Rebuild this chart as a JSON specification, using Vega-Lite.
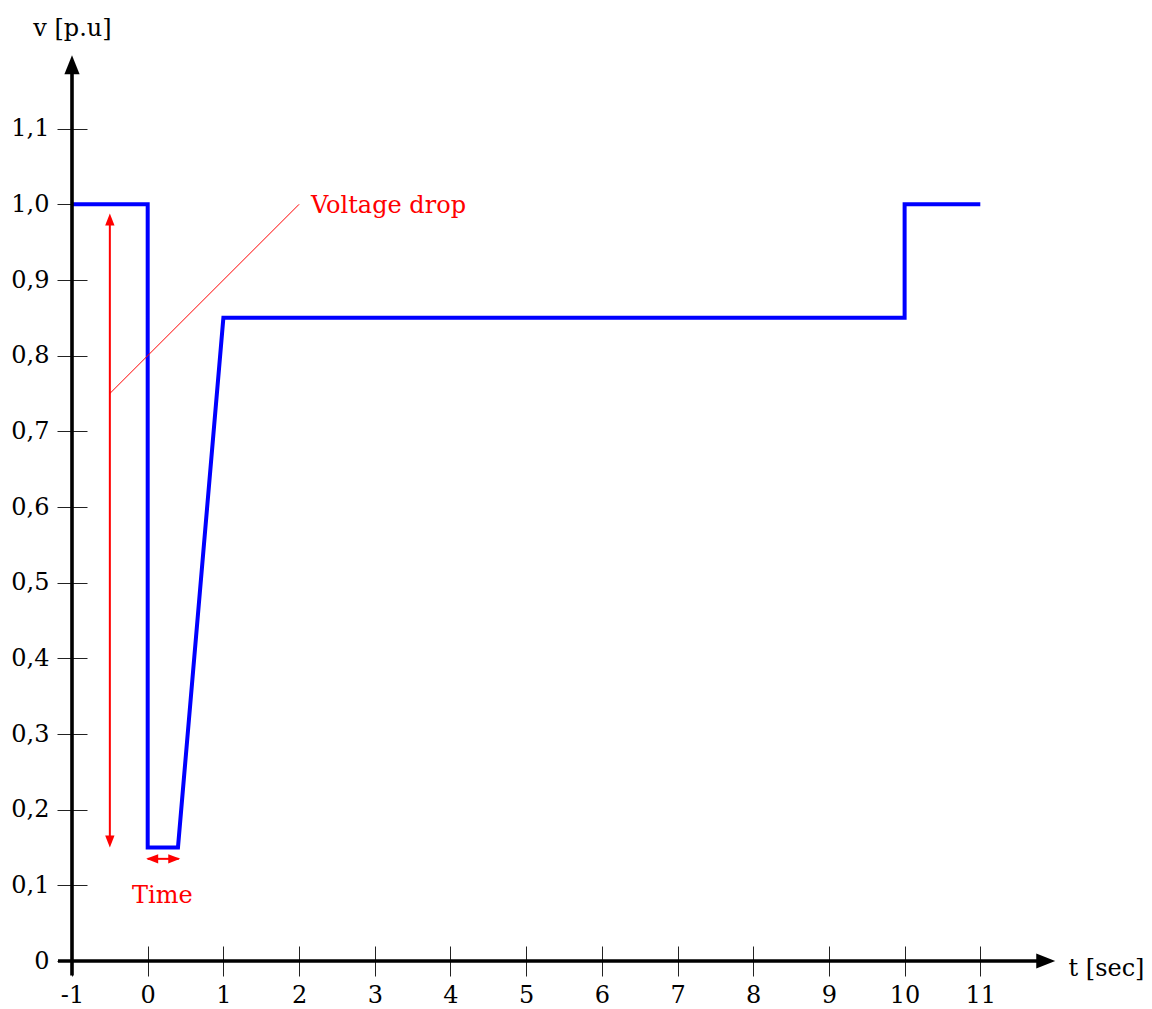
{
  "$schema": "https://vega.github.io/schema/vega-lite/v6.json",
  "width": 984,
  "height": 908,
  "autosize": {"type": "none"},
  "padding": {"left": 72, "top": 53, "right": 96, "bottom": 48},
  "background": "white",
  "config": {"view": {"stroke": null}, "font": "DejaVu Serif"},
  "datasets": {
    "voltage": [
      {"step": 1, "t": -1, "v": 1},
      {"step": 2, "t": 0, "v": 1},
      {"step": 3, "t": 0, "v": 0.15},
      {"step": 4, "t": 0.4, "v": 0.15},
      {"step": 5, "t": 1, "v": 0.85},
      {"step": 6, "t": 10, "v": 0.85},
      {"step": 7, "t": 10, "v": 1},
      {"step": 8, "t": 11, "v": 1}
    ],
    "axisLines": [
      {"t": -1.185, "v": 0, "t2": 11.8, "v2": 0},
      {"t": -1, "v": -0.019, "t2": -1, "v2": 1.175}
    ],
    "axisHeads": [
      {"t": 11.99, "v": 0, "heading": 0},
      {"t": -1, "v": 1.197, "heading": 270}
    ],
    "shafts": [
      {"t": -0.5, "v": 0.162, "t2": -0.5, "v2": 0.976},
      {"t": 0.0, "v": 0.135, "t2": 0.41, "v2": 0.135}
    ],
    "leader": [
      {"t": -0.5, "v": 0.75, "t2": 2, "v2": 1}
    ],
    "heads": [
      {"t": -0.5, "v": 0.988, "heading": 270},
      {"t": -0.5, "v": 0.15, "heading": 90},
      {"t": -0.02, "v": 0.135, "heading": 180},
      {"t": 0.43, "v": 0.135, "heading": 0}
    ],
    "notes": [
      {"t": 2.157, "v": 0.988, "label": "Voltage drop"},
      {"t": -0.207, "v": 0.077, "label": "Time"}
    ]
  },
  "encoding": {
    "x": {
      "field": "t",
      "type": "quantitative",
      "scale": {"domain": [-1, 12], "nice": false, "zero": false},
      "axis": {
        "values": [-1, 0, 1, 2, 3, 4, 5, 6, 7, 8, 9, 10, 11],
        "domain": false,
        "grid": false,
        "offset": -15,
        "tickSize": 30,
        "tickWidth": 1,
        "tickColor": "#222222",
        "labelPadding": 7,
        "labelFontSize": 24,
        "labelColor": "black",
        "labelFont": "DejaVu Serif",
        "labelOverlap": false,
        "labelFlush": false,
        "labelExpr": "'' + datum.value",
        "title": "t [sec]",
        "titleFont": "DejaVu Serif",
        "titleFontSize": 24,
        "titleFontWeight": "normal",
        "titleColor": "black",
        "titleAlign": "left",
        "titleBaseline": "alphabetic",
        "titleX": 996,
        "titleY": 29
      }
    },
    "y": {
      "field": "v",
      "type": "quantitative",
      "scale": {"domain": [0, 1.2], "nice": false, "zero": false},
      "axis": {
        "values": [0, 0.1, 0.2, 0.3, 0.4, 0.5, 0.6, 0.7, 0.8, 0.9, 1, 1.1],
        "domain": false,
        "grid": false,
        "offset": -15,
        "tickSize": 30,
        "tickWidth": 1,
        "tickColor": "#222222",
        "labelPadding": 8,
        "labelFontSize": 24,
        "labelColor": "black",
        "labelFont": "DejaVu Serif",
        "labelOverlap": false,
        "labelFlush": false,
        "labelExpr": "datum.value == 0 ? '0' : replace(format(datum.value, '.1f'), '.', ',')",
        "title": "v [p.u]",
        "titleFont": "DejaVu Serif",
        "titleFontSize": 24,
        "titleFontWeight": "normal",
        "titleColor": "black",
        "titleAngle": 0,
        "titleAlign": "center",
        "titleBaseline": "alphabetic",
        "titleX": -15,
        "titleY": -18
      }
    }
  },
  "layer": [
    {
      "data": {"name": "voltage"},
      "mark": {"type": "line", "color": "#0000ff", "strokeWidth": 4, "strokeJoin": "miter", "strokeCap": "butt"},
      "encoding": {"order": {"field": "step", "type": "quantitative"}}
    },
    {
      "data": {"name": "axisLines"},
      "mark": {"type": "rule", "color": "black", "strokeWidth": 3.6},
      "encoding": {"x2": {"field": "t2"}, "y2": {"field": "v2"}}
    },
    {
      "data": {"name": "axisHeads"},
      "mark": {"type": "point", "filled": true, "color": "black", "opacity": 1, "strokeWidth": 0, "size": 361, "shape": "M0,0 L-2,-0.8 L-2,0.8 Z"},
      "encoding": {"angle": {"field": "heading", "type": "quantitative", "scale": null}}
    },
    {
      "data": {"name": "shafts"},
      "mark": {"type": "rule", "color": "#ff0000", "strokeWidth": 2},
      "encoding": {"x2": {"field": "t2"}, "y2": {"field": "v2"}}
    },
    {
      "data": {"name": "leader"},
      "mark": {"type": "rule", "color": "#ff0000", "strokeWidth": 1},
      "encoding": {"x2": {"field": "t2"}, "y2": {"field": "v2"}}
    },
    {
      "data": {"name": "heads"},
      "mark": {"type": "point", "filled": true, "color": "#ff0000", "opacity": 1, "strokeWidth": 0, "size": 144, "shape": "M0,0 L-2,-0.78 L-2,0.78 Z"},
      "encoding": {"angle": {"field": "heading", "type": "quantitative", "scale": null}}
    },
    {
      "data": {"name": "notes"},
      "mark": {"type": "text", "color": "#ff0000", "font": "DejaVu Serif", "fontSize": 24, "align": "left", "baseline": "alphabetic"},
      "encoding": {"text": {"field": "label"}}
    }
  ]
}
